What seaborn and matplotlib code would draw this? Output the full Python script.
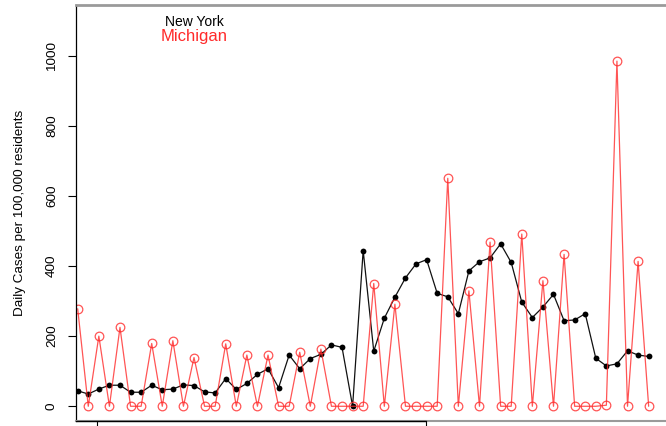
import matplotlib
matplotlib.use("Agg")
import matplotlib.pyplot as plt
import matplotlib.transforms as mtransforms
import numpy as np
import pandas as pd
import seaborn as sns

# Daily cases per 100,000 residents, one value per reporting day
new_york = [44, 35, 49, 60, 60, 40, 40, 60, 47, 49, 61, 59, 41, 38, 79, 48, 65, 91,
            107, 53, 146, 107, 136, 148, 175, 168, 0, 444, 157, 251, 311, 366, 406, 418,
            322, 312, 264, 386, 412, 423, 463, 410, 297, 253, 283, 319, 244, 246, 264,
            137, 115, 121, 158, 146, 142]
michigan = [278, 0, 200, 0, 225, 0, 0, 179, 0, 187, 0, 139, 0, 0, 178, 0, 146, 0,
            146, 0, 0, 154, 0, 163, 0, 0, 0, 0, 350, 0, 291, 0, 0, 0, 0, 650, 0, 329,
            0, 468, 0, 0, 491, 0, 358, 0, 433, 0, 0, 0, 3, 984, 0, 413, 0]
day = list(range(len(new_york)))

y_ticks = [0, 200, 400, 600, 800, 1000]
x_ticks = [1.83, 32.9]
series_names = ["New York", "Michigan"]

df = pd.DataFrame({"day": day, "New York": new_york, "Michigan": michigan})

sns.set_style("white")
plt.rcParams["font.family"] = ["Liberation Sans", "DejaVu Sans"]

W, H = 666, 426
fig = plt.figure(figsize=(W / 100, H / 100), dpi=100)
ax = fig.add_axes([76 / W, 5 / H, (W - 76) / W, 416 / H])

sns.lineplot(data=df, x="day", y="New York", ax=ax, color="#111111", lw=0.9,
             marker="o", markersize=4.2, markeredgewidth=0, markerfacecolor="black")
sns.lineplot(data=df, x="day", y="Michigan", ax=ax, color="#ff2a2a", lw=0.9, alpha=0.8,
             marker="o", markersize=6.2, markerfacecolor="none",
             markeredgecolor="#ff2a2a", markeredgewidth=0.9)

ax.set_xlim(-0.16, 55.64)
ax.set_ylim(-42, 1144)

ax.set_yticks(y_ticks)
ax.set_yticklabels([str(v) for v in y_ticks], rotation=90, va="center", fontsize=9.7)
ax.set_xticks(x_ticks)
ax.set_xticklabels(["", ""])
ax.tick_params(axis="y", direction="out", length=6, width=0.8, color="black",
               left=True, pad=7, labelcolor="black")
ax.tick_params(axis="x", direction="out", length=7, width=0.8, color="black",
               bottom=True)

ax.set_xlabel("")
ax.set_ylabel("Daily Cases per 100,000 residents", fontsize=9.7, color="black")
ax.yaxis.set_label_coords(-(76 - 26) / (W - 76), 0.5)

ax.spines["right"].set_visible(False)
ax.spines["left"].set_color("black")
ax.spines["left"].set_linewidth(0.9)
ax.spines["top"].set_color("#9a9a9a")
ax.spines["top"].set_linewidth(2)
ax.spines["bottom"].set_color("#9a9a9a")
ax.spines["bottom"].set_linewidth(1.5)

# dark axis segment up to the last x tick
trans = mtransforms.blended_transform_factory(ax.transData, ax.transAxes)
ax.plot([ax.get_xlim()[0], x_ticks[-1]], [0, 0], color="black", lw=1.0,
        transform=trans, clip_on=False, zorder=5)

fig.text(194 / W, 1 - 22 / H, series_names[0], color="black", fontsize=10,
         ha="center", va="center")
fig.text(194 / W, 1 - 36 / H, series_names[1], color="#ff2a2a", fontsize=12,
         ha="center", va="center")

fig.savefig("out.png", dpi=100)
